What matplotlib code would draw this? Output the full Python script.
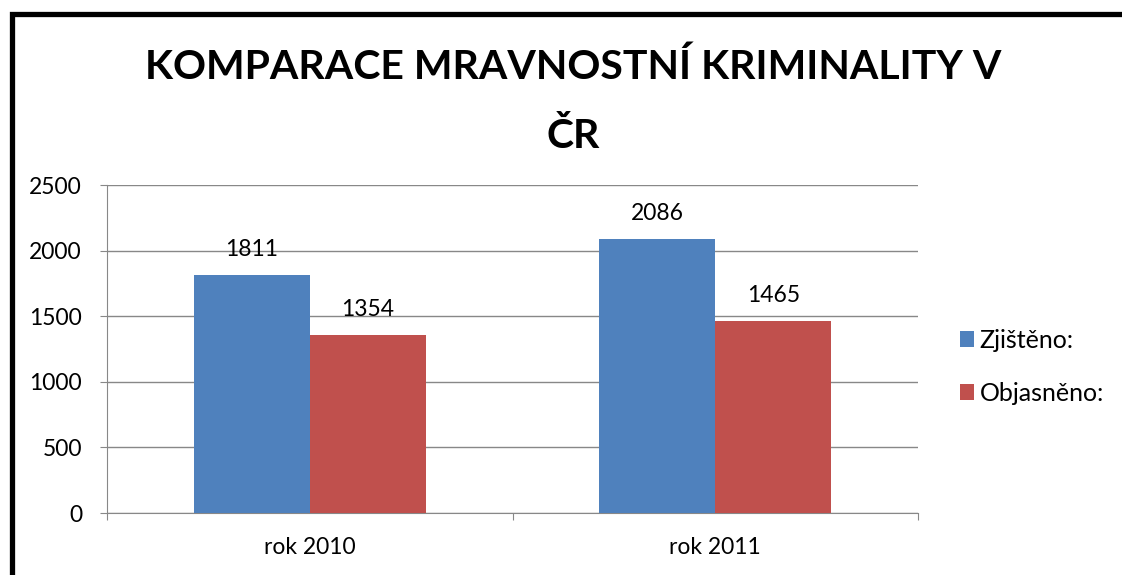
import matplotlib
matplotlib.use("Agg")
import matplotlib.pyplot as plt
from matplotlib.patches import Rectangle
import numpy as np

plt.rcParams['font.family'] = ['Lato', 'DejaVu Sans']

categories = ["rok 2010", "rok 2011"]
series_names = ["Zjištěno:", "Objasněno:"]
zjisteno = [1811, 2086]
objasneno = [1354, 1465]
colors = ["#4F81BD", "#C0504D"]
title_lines = ["KOMPARACE MRAVNOSTNÍ KRIMINALITY V", "ČR"]

W, H = 1122, 575
fig = plt.figure(figsize=(W / 100, H / 100), dpi=100)
ax = fig.add_axes([107 / W, 1 - 513 / H, (918 - 107) / W, (513 - 185) / H])

FS = 16.5
x = np.arange(len(categories))
bw = 0.286
b1 = ax.bar(x - bw / 2, zjisteno, bw, color=colors[0], label=series_names[0], zorder=3)
b2 = ax.bar(x + bw / 2, objasneno, bw, color=colors[1], label=series_names[1], zorder=3)
for bars in (b1, b2):
    for r in bars:
        ax.annotate(f"{int(r.get_height())}", (r.get_x() + r.get_width() / 2, r.get_height()),
                    xytext=(0, 13.7), textcoords="offset points", ha="center", va="baseline",
                    fontsize=FS, color="black", zorder=5)

ax.set_xlim(-0.5, 1.5)
ax.set_ylim(0, 2500)
ax.set_yticks(range(0, 2501, 500))
ax.yaxis.grid(True, color="#888888", linewidth=1.0, zorder=0)
ax.set_xticks([-0.5, 0.5, 1.5])
ax.set_xticklabels([])
ax.set_xticks(x, minor=True)
ax.set_xticklabels(categories, minor=True)
ax.tick_params(axis="x", which="minor", length=0, pad=17.5, labelsize=FS)
ax.tick_params(axis="x", which="major", length=5, color="#888888", direction="out")
ax.tick_params(axis="y", length=5, color="#888888", labelsize=FS, pad=13)
for s in ("top", "right"):
    ax.spines[s].set_visible(False)
for s in ("left", "bottom"):
    ax.spines[s].set_color("#888888")

LFS = 18
leg = fig.legend(handles=[b1, b2], labels=series_names, loc="center left",
                 bbox_to_anchor=(960 / W, 1 - 367 / H), frameon=False, fontsize=LFS,
                 handlelength=0.57, handleheight=0.57, handletextpad=0.22, labelspacing=1.2,
                 borderpad=0, borderaxespad=0)

fig.text(573 / W, 1 - 79 / H, title_lines[0], ha="center", va="baseline", fontsize=29.5,
         fontweight="bold")
fig.text(573 / W, 1 - 148 / H, title_lines[1], ha="center", va="baseline", fontsize=29.5,
         fontweight="bold")

fig.patches.append(Rectangle((12 / W, -0.1), 1.2, 1 - 14 / H + 0.1, transform=fig.transFigure,
                             fill=False, edgecolor="black", linewidth=3.8, zorder=10))

fig.savefig("out.png", dpi=100)
